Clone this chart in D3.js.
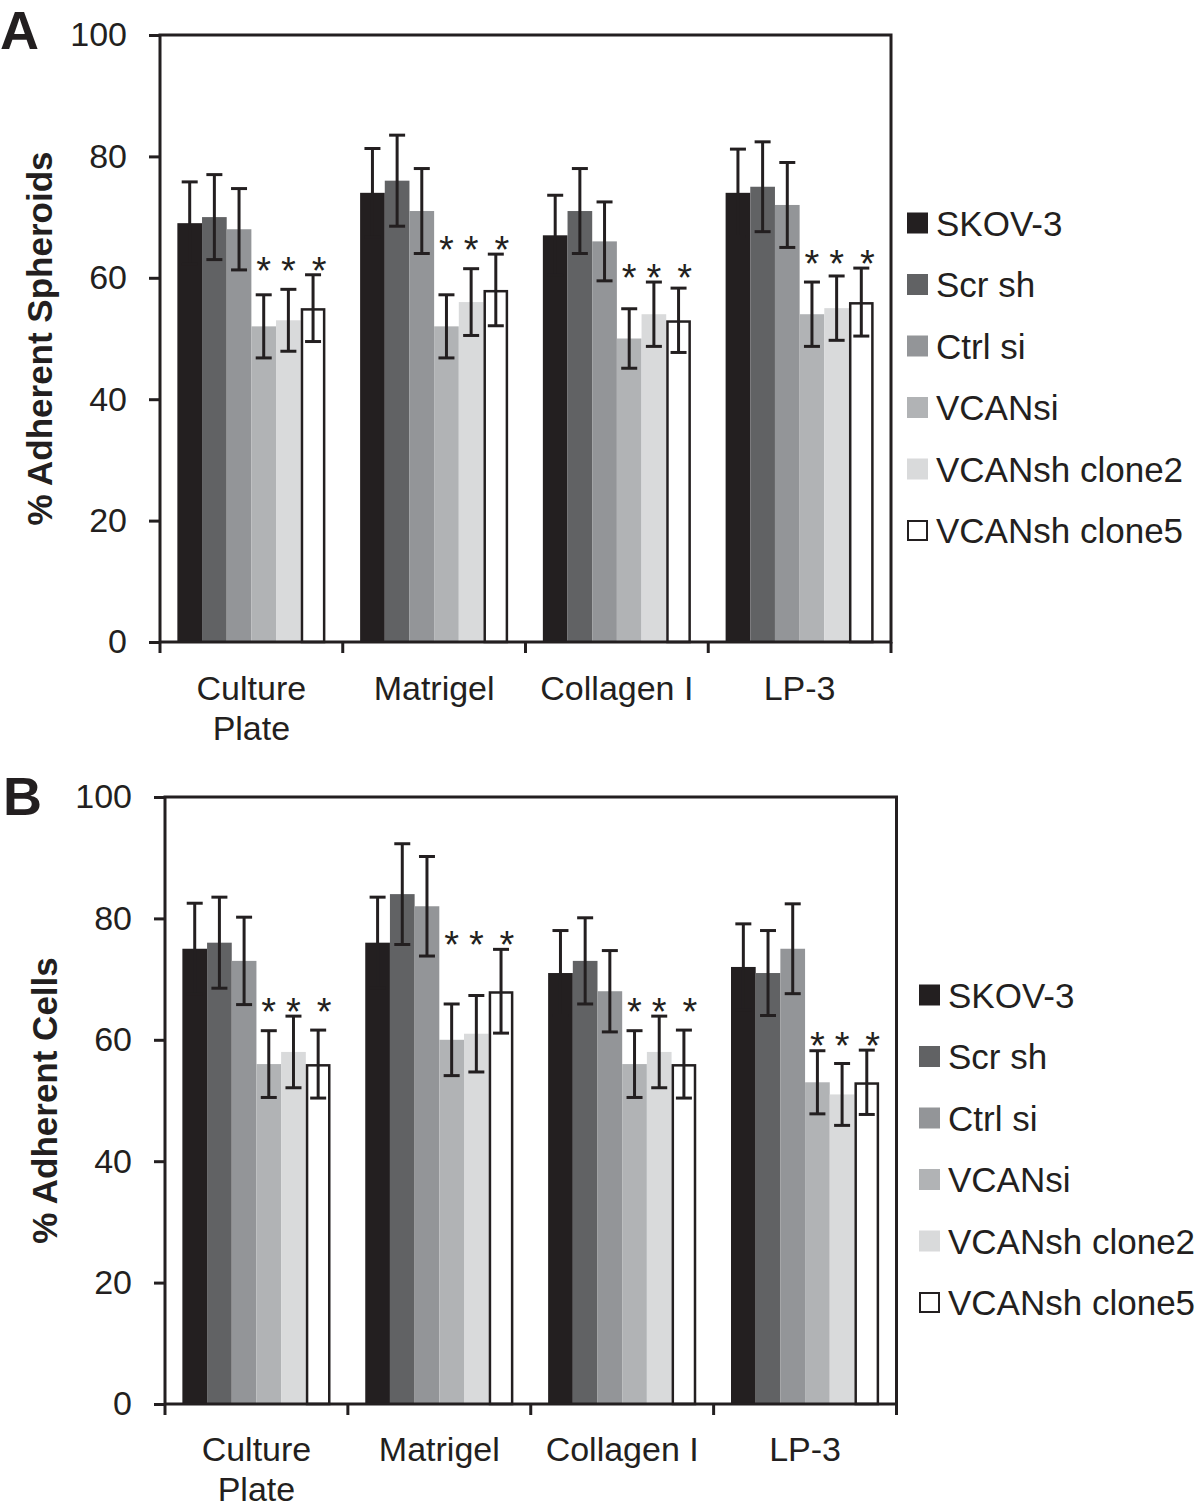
<!DOCTYPE html>
<html><head><meta charset="utf-8">
<script src="https://cdn.jsdelivr.net/npm/d3@7"></script>
<style>body{margin:0;background:#fff}svg{display:block}text{font-family:"Liberation Sans",Arial,sans-serif;fill:#231f20}</style>
</head><body>
<script>
const categories = ["Culture Plate", "Matrigel", "Collagen I", "LP-3"];
const categoryLines = [["Culture", "Plate"], ["Matrigel"], ["Collagen I"], ["LP-3"]];
const series = ["SKOV-3", "Scr sh", "Ctrl si", "VCANsi", "VCANsh clone2", "VCANsh clone5"];
const seriesColors = ["#231f20", "#616264", "#939598", "#b1b3b5", "#d9dadb", "#ffffff"];
const starredSeries = ["VCANsi", "VCANsh clone2", "VCANsh clone5"];
const yTicks = [0, 20, 40, 60, 80, 100];

// Panel A: % Adherent Spheroids (rows = categories, columns = series)
const spheroidMeans = [
  [69, 70, 68, 52, 53, 55],
  [74, 76, 71, 52, 56, 58],
  [67, 71, 66, 50, 54, 53],
  [74, 75, 72, 54, 55, 56]
];
const spheroidErrors = [
  [6.8, 7.0, 6.7, 5.2, 5.1, 5.5],
  [7.3, 7.5, 7.0, 5.2, 5.5, 5.9],
  [6.6, 7.0, 6.5, 4.9, 5.3, 5.3],
  [7.2, 7.4, 7.0, 5.3, 5.3, 5.6]
];
// Panel B: % Adherent Cells
const cellMeans = [
  [75, 76, 73, 56, 58, 56],
  [76, 84, 82, 60, 61, 68],
  [71, 73, 68, 56, 58, 56],
  [72, 71, 75, 53, 51, 53]
];
const cellErrors = [
  [7.5, 7.5, 7.2, 5.5, 5.9, 5.6],
  [7.5, 8.3, 8.2, 5.9, 6.3, 6.9],
  [7.0, 7.1, 6.7, 5.5, 5.9, 5.6],
  [7.1, 7.0, 7.4, 5.2, 5.1, 5.3]
];

const INK = "#231f20";
const svg = d3.select("body").append("svg").attr("width", 1200).attr("height", 1507);

function panel(opts) {
  const {letter, letterPos, title, means, errors, left, right, top, bottom, legendX, legendY, catBase} = opts;
  const g = svg.append("g");
  const x0 = d3.scaleBand().domain(categories).range([left, right]).paddingInner(0.19).paddingOuter(0.095);
  const x1 = d3.scaleBand().domain(series).range([0, x0.bandwidth()]);
  const y = d3.scaleLinear().domain([0, 100]).range([bottom, top]);

  // bars
  categories.forEach((c, ci) => {
    const gg = g.append("g").attr("transform", `translate(${x0(c)},0)`);
    series.forEach((s, si) => {
      const v = means[ci][si];
      const isWhite = si === series.length - 1;
      gg.append("rect")
        .attr("x", x1(s) + (isWhite ? 1.25 : 0))
        .attr("y", y(v) + (isWhite ? 1.25 : 0))
        .attr("width", x1.bandwidth() - (isWhite ? 2.5 : 0))
        .attr("height", y(0) - y(v) - (isWhite ? 1.25 : 0))
        .attr("fill", seriesColors[si])
        .attr("stroke", isWhite ? INK : "none")
        .attr("stroke-width", isWhite ? 2.5 : 0);
    });
    // error bars
    series.forEach((s, si) => {
      const v = means[ci][si], e = errors[ci][si];
      const cx = x1(s) + x1.bandwidth() / 2;
      const eg = gg.append("g").attr("stroke", INK).attr("stroke-width", 3);
      eg.append("line").attr("x1", cx).attr("x2", cx).attr("y1", y(v - e)).attr("y2", y(v + e));
      eg.append("line").attr("x1", cx - 8).attr("x2", cx + 8).attr("y1", y(v - e)).attr("y2", y(v - e));
      eg.append("line").attr("x1", cx - 8).attr("x2", cx + 8).attr("y1", y(v + e)).attr("y2", y(v + e));
    });
    // asterisks
    const starIdx = starredSeries.map(s => series.indexOf(s));
    const maxTop = d3.max(starIdx, si => means[ci][si] + errors[ci][si]);
    starIdx.forEach((si, k) => {
      const cx = x1(series[si]) + x1.bandwidth() / 2 + (k === 2 ? 6 : 0);
      gg.append("text").attr("x", cx).attr("y", y(maxTop) + 9)
        .attr("text-anchor", "middle").attr("font-size", 38).text("*");
    });
  });

  // frame
  g.append("rect").attr("x", left).attr("y", top).attr("width", right - left).attr("height", bottom - top)
    .attr("fill", "none").attr("stroke", INK).attr("stroke-width", 3);

  // y axis
  const ya = g.append("g").attr("transform", `translate(${left},0)`)
    .call(d3.axisLeft(y).tickValues(yTicks).tickSize(11).tickPadding(22).tickFormat(d3.format("d")));
  ya.select(".domain").remove();
  ya.selectAll(".tick line").attr("stroke", INK).attr("stroke-width", 3);
  ya.selectAll(".tick text").attr("font-size", 34).attr("font-family", '"Liberation Sans",Arial,sans-serif').attr("fill", INK);

  // x axis boundary ticks
  const bounds = categories.map(c => x0(c) - x0.step() * 0.095).concat([right]);
  g.append("g").selectAll("line").data(bounds).join("line")
    .attr("x1", d => d).attr("x2", d => d).attr("y1", bottom).attr("y2", bottom + 11)
    .attr("stroke", INK).attr("stroke-width", 3);

  // category labels
  categories.forEach((c, ci) => {
    const t = g.append("text").attr("x", x0(c) + x0.bandwidth() / 2).attr("y", bottom + catBase)
      .attr("text-anchor", "middle").attr("font-size", 34);
    categoryLines[ci].forEach((ln, li) => {
      t.append("tspan").attr("x", x0(c) + x0.bandwidth() / 2).attr("dy", li === 0 ? 0 : 40).text(ln);
    });
  });

  // y title
  g.append("text").attr("transform", `translate(${left - 108},${(top + bottom) / 2}) rotate(-90)`)
    .attr("text-anchor", "middle").attr("font-size", 35).attr("font-weight", "bold").text(title);

  // panel letter
  g.append("text").attr("x", letterPos[0]).attr("y", letterPos[1]).attr("font-size", 54)
    .attr("font-weight", "bold").text(letter);

  // legend
  const lg = g.append("g").attr("transform", `translate(${legendX},${legendY})`);
  series.forEach((s, si) => {
    const row = lg.append("g").attr("transform", `translate(0,${si * 61.5})`);
    const isWhite = si === series.length - 1;
    row.append("rect").attr("x", isWhite ? 1 : 0).attr("y", isWhite ? -9.5 : -10.5)
      .attr("width", isWhite ? 19 : 21).attr("height", isWhite ? 19 : 21)
      .attr("fill", seriesColors[si]).attr("stroke", isWhite ? INK : "none").attr("stroke-width", 2);
    row.append("text").attr("x", 29).attr("y", 12.5).attr("font-size", 35).text(s);
  });
}

panel({letter: "A", letterPos: [0, 49], title: "% Adherent Spheroids", means: spheroidMeans, errors: spheroidErrors,
  left: 160, right: 891, top: 35, bottom: 642, legendX: 907, legendY: 223, catBase: 58});
panel({letter: "B", letterPos: [3, 815], title: "% Adherent Cells", means: cellMeans, errors: cellErrors,
  left: 165, right: 896.5, top: 797, bottom: 1404, legendX: 919, legendY: 995, catBase: 57});
</script>
</body></html>
